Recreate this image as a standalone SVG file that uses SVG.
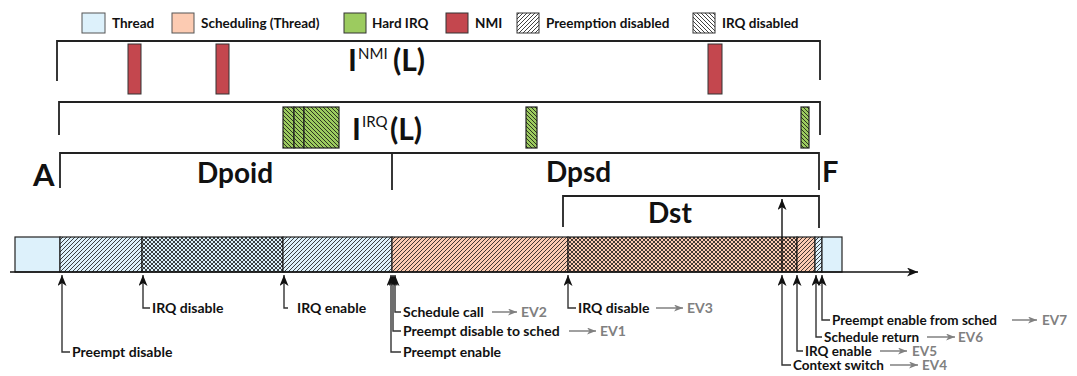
<svg xmlns="http://www.w3.org/2000/svg" width="1077" height="376" viewBox="0 0 1077 376">
<style>
text{font-family:Lato,"Noto Sans",sans-serif;font-weight:bold;fill:#111}
.leg{font-size:13.5px}
.lbl{font-size:14px}
.ev{font-size:14px;fill:#808080}
.sm{font-size:13.5px}
.big{font-size:30px}
.sup{font-size:15px;font-weight:normal}
.br{fill:none;stroke:#222;stroke-width:1.8}
.seg{stroke:#222;stroke-width:1.2}
.conn{fill:none;stroke:#333;stroke-width:1.4;marker-end:url(#ah)}
.garr{stroke:#808080;stroke-width:1.5;marker-end:url(#gh)}
.blue{fill:#ddf1fb}
.org{fill:#fccbb2}
.grn{fill:#9ccb5f}
.nmi{fill:#c4474e;stroke:#333;stroke-width:1}
</style>
<defs>
<pattern id="fw" width="4" height="4" patternUnits="userSpaceOnUse"><path d="M-1,1 L1,-1 M0,4 L4,0 M3,5 L5,3" stroke="#111" stroke-width="0.8"/></pattern>
<pattern id="bw" width="4" height="4" patternUnits="userSpaceOnUse"><path d="M-1,3 L1,5 M0,0 L4,4 M3,-1 L5,1" stroke="#111" stroke-width="0.8"/></pattern>
<pattern id="cx" width="4" height="4" patternUnits="userSpaceOnUse"><path d="M-1,1 L1,-1 M0,4 L4,0 M3,5 L5,3 M-1,3 L1,5 M0,0 L4,4 M3,-1 L5,1" stroke="#111" stroke-width="0.8"/></pattern>
<marker id="ah" markerUnits="userSpaceOnUse" markerWidth="13" markerHeight="10" refX="11" refY="4.5" orient="auto"><path d="M0,0 L11,4.5 L0,9 L3,4.5 z" fill="#111"/></marker>
<marker id="gh" markerUnits="userSpaceOnUse" markerWidth="11" markerHeight="8" refX="9" refY="3.5" orient="auto"><path d="M0,0 L9,3.5 L0,7 L2.5,3.5 z" fill="#808080"/></marker>
</defs>

<g id="legend">
<rect x="82" y="13" width="23" height="20" class="blue" stroke="#555" stroke-width="1"/>
<text x="112" y="28" class="leg">Thread</text>
<rect x="172" y="13" width="22" height="20" class="org" stroke="#555" stroke-width="1"/>
<text x="201" y="28" class="leg">Scheduling (Thread)</text>
<rect x="344" y="13" width="22" height="20" class="grn" stroke="#333" stroke-width="1"/>
<text x="372" y="28" class="leg">Hard IRQ</text>
<rect x="446" y="13" width="22" height="20" class="nmi"/>
<text x="475" y="28" class="leg">NMI</text>
<rect x="517" y="13" width="22" height="20" fill="url(#fw)" stroke="#333" stroke-width="1"/>
<text x="546" y="28" class="leg">Preemption disabled</text>
<rect x="693" y="13" width="22" height="20" fill="url(#bw)" stroke="#333" stroke-width="1"/>
<text x="722" y="28" class="leg">IRQ disabled</text>
</g>

<g id="nmi-window">
<path class="br" d="M57,81 V41 H820 V80"/>
<rect x="128" y="44" width="13" height="50" class="nmi"/>
<rect x="216" y="44" width="13" height="50" class="nmi"/>
<rect x="708" y="44" width="14" height="50" class="nmi"/>
<text x="348" y="71" class="big">I</text>
<text x="358" y="59" class="sup">NMI</text>
<text x="393" y="71" class="big">(L)</text>
</g>

<g id="irq-window">
<path class="br" d="M59,135 V102 H820 V135"/>
<g class="seg">
<rect x="283" y="107" width="11" height="41" class="grn"/>
<rect x="294" y="107" width="10" height="41" class="grn"/>
<rect x="304" y="107" width="35" height="41" class="grn"/>
<rect x="526" y="107" width="11" height="41" class="grn"/>
<rect x="801" y="107" width="8" height="41" class="grn"/>
</g>
<g fill="url(#bw)">
<rect x="283" y="107" width="56" height="41"/>
<rect x="526" y="107" width="11" height="41"/>
<rect x="801" y="107" width="8" height="41"/>
</g>
<text x="352" y="140" class="big">I</text>
<text x="362" y="127" class="sup">IRQ</text>
<text x="390" y="140" class="big">(L)</text>
</g>

<g id="d-brackets">
<path class="br" d="M60,188 V153 H819 V190 M392,153 V190"/>
<text x="33" y="186" style="font-size:31px">A</text>
<text x="197" y="183" style="font-size:28px">Dpoid</text>
<text x="546" y="182" style="font-size:28px">Dpsd</text>
<text x="822" y="182" style="font-size:29px">F</text>
<path class="br" d="M563,227 V196 H819 V228"/>
<text x="648" y="223" style="font-size:28px">Dst</text>
</g>

<g id="timeline-bar">
<rect x="15" y="237" width="45" height="35" class="blue seg"/>
<rect x="60" y="237" width="82" height="35" class="blue seg"/>
<rect x="142" y="237" width="141" height="35" class="blue seg"/>
<rect x="283" y="237" width="109" height="35" class="blue seg"/>
<rect x="392" y="237" width="176" height="35" class="org seg"/>
<rect x="568" y="237" width="229" height="35" class="org seg"/>
<rect x="797" y="237" width="18" height="35" class="org seg"/>
<rect x="815" y="237" width="7" height="35" class="blue seg"/>
<rect x="822" y="237" width="20" height="35" class="blue seg"/>
<rect x="60" y="237" width="82" height="35" fill="url(#fw)"/>
<rect x="142" y="237" width="141" height="35" fill="url(#cx)"/>
<rect x="283" y="237" width="109" height="35" fill="url(#fw)"/>
<rect x="392" y="237" width="176" height="35" fill="url(#fw)"/>
<rect x="568" y="237" width="229" height="35" fill="url(#cx)"/>
<rect x="797" y="237" width="18" height="35" fill="url(#fw)"/>
<rect x="815" y="237" width="7" height="35" fill="url(#fw)"/>
</g>

<g id="connectors">
<line x1="10" y1="272" x2="918" y2="272" stroke="#111" stroke-width="1.4" marker-end="url(#ah)"/>
<line x1="782" y1="272" x2="782" y2="199" stroke="#111" stroke-width="1.4" marker-end="url(#ah)"/>
<path class="conn" d="M70,352 H62 V275"/>
<path class="conn" d="M150,308 H143 V275"/>
<path class="conn" d="M288,308 H284 V275"/>
<path class="conn" d="M401,312 H395 V275"/>
<path class="conn" d="M401,331 H393 V275"/>
<path class="conn" d="M401,352 H391 V275"/>
<path class="conn" d="M576,308 H568 V275"/>
<path class="conn" d="M791,365 H782 V275"/>
<path class="conn" d="M803,351 H797 V275"/>
<path class="conn" d="M822,337 H816 V275"/>
<path class="conn" d="M830,320 H822 V275"/>
<line class="garr" x1="492" y1="312" x2="517" y2="312"/>
<line class="garr" x1="569" y1="331" x2="596" y2="331"/>
<line class="garr" x1="656" y1="308" x2="683" y2="308"/>
<line class="garr" x1="1012" y1="320" x2="1037" y2="320"/>
<line class="garr" x1="927" y1="337" x2="955" y2="337"/>
<line class="garr" x1="880" y1="351" x2="907" y2="351"/>
<line class="garr" x1="890" y1="365" x2="918" y2="365"/>
</g>

<g id="event-labels">
<text x="72" y="357" class="lbl">Preempt disable</text>
<text x="152" y="313" class="lbl">IRQ disable</text>
<text x="297" y="313" class="lbl">IRQ enable</text>
<text x="403" y="317" class="lbl">Schedule call</text>
<text x="521" y="317" class="ev">EV2</text>
<text x="403" y="336" class="lbl">Preempt disable to sched</text>
<text x="600" y="336" class="ev">EV1</text>
<text x="403" y="357" class="lbl">Preempt enable</text>
<text x="578" y="313" class="lbl">IRQ disable</text>
<text x="687" y="313" class="ev">EV3</text>
<text x="832" y="325" class="lbl sm">Preempt enable from sched</text>
<text x="1042" y="325" class="ev sm">EV7</text>
<text x="824" y="341.5" class="lbl sm">Schedule return</text>
<text x="958" y="341.5" class="ev sm">EV6</text>
<text x="805" y="355.5" class="lbl sm">IRQ enable</text>
<text x="912" y="355.5" class="ev sm">EV5</text>
<text x="793" y="369.5" class="lbl sm">Context switch</text>
<text x="922" y="369.5" class="ev sm">EV4</text>
</g>
</svg>
